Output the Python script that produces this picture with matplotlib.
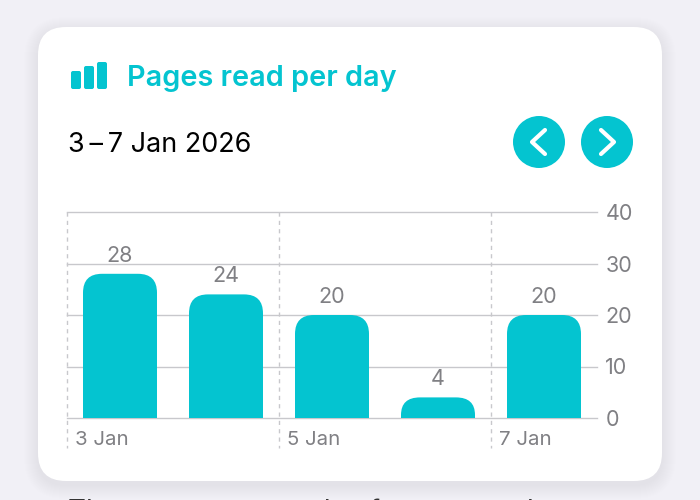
#!/bin/env python3
import matplotlib.pyplot as plt
import matplotlib as mpl
from matplotlib.patches import FancyBboxPatch, PathPatch, Circle
from matplotlib.path import Path

mpl.rcParams["font.family"] = ["Inter", "DejaVu Sans"]

days = [0, 1, 2, 3, 4]
pages = [28, 24, 20, 4, 20]
y_ticks = [0, 10, 20, 30, 40]
date_ticks = [0, 2, 4]
date_labels = ["3 Jan", "5 Jan", "7 Jan"]

teal = "#04c4d0"
grid = "#c8c8cc"
grey = "#808084"

fig = plt.figure(figsize=(7, 5), dpi=100, facecolor="#f1f0f6")

# background layer in pixels, y going down
bg = fig.add_axes([0, 0, 1, 1])
bg.set_xlim(0, 700)
bg.set_ylim(500, 0)
bg.axis("off")

# soft shadow, then the card
for i in range(14):
    pad = 14 - i
    bg.add_patch(FancyBboxPatch((38 - pad, 27 - pad + 4), 624 + 2 * pad, 454 + 2 * pad,
                                boxstyle="round,pad=0,rounding_size=%d" % (28 + pad),
                                fc="#000000", ec="none", alpha=0.0028))
bg.add_patch(FancyBboxPatch((38, 27), 624, 454, boxstyle="round,pad=0,rounding_size=28",
                            fc="white", ec="none"))

# small bars icon
for x0, top in [(71, 71), (84, 66), (97, 62)]:
    bg.add_patch(FancyBboxPatch((x0, top), 10, 89 - top, boxstyle="round,pad=0,rounding_size=2",
                                fc=teal, ec="none"))

bg.text(127, 78.5, "Pages read per day", color=teal, fontsize=20.8, fontweight="semibold",
        va="center", ha="left")
bg.text(68, 144.5, "3\u2009\u2013\u20097 Jan 2026", color="black", fontsize=19.4, va="center", ha="left")

# buttons
for cx, sign in [(539, -1), (607, 1)]:
    bg.add_patch(Circle((cx, 142), 26, fc=teal, ec="none"))
    bg.plot([cx - sign * 6, cx + sign * 7, cx - sign * 6], [130, 142, 154],
            color="white", lw=3, solid_capstyle="round", solid_joinstyle="round")

# cut off line of text below the card
bg.text(68, 512, "There are no records of a new read", color="#333333", fontsize=20,
        va="center", ha="left", clip_on=True)

# chart, x from 67 to 597 px, y from 418 to 212 px
ax = fig.add_axes([67 / 700, (500 - 418) / 500, 530 / 700, 206 / 500])
ax.patch.set_alpha(0)
ax.set_xlim(-0.5, 4.5)
ax.set_ylim(0, 40)
for s in ax.spines.values():
    s.set_visible(False)
ax.yaxis.tick_right()
ax.set_yticks(y_ticks)
ax.set_xticks([])
ax.tick_params(axis="y", length=0, pad=6, labelsize=15.5, labelcolor=grey)
for t in y_ticks:
    ax.axhline(t, color=grid, lw=1.0, zorder=1, clip_on=False)


def rounded_bar(x, h, w=74 / 106, r_px=19):
    rx = r_px / 106
    ry = min(r_px, h * 5.15 * 0.85) / 5.15
    x0, x1 = x - w / 2, x + w / 2
    verts = [(x0, 0), (x0, h - ry), (x0, h), (x0 + rx, h), (x1 - rx, h),
             (x1, h), (x1, h - ry), (x1, 0), (x0, 0)]
    codes = [Path.MOVETO, Path.LINETO, Path.CURVE3, Path.CURVE3, Path.LINETO,
             Path.CURVE3, Path.CURVE3, Path.LINETO, Path.CLOSEPOLY]
    ax.add_patch(PathPatch(Path(verts, codes), fc=teal, ec="none", zorder=3))


for d, p in zip(days, pages):
    rounded_bar(d, p)
    ax.annotate(str(p), (d, p), xytext=(0, 13), textcoords="offset points", ha="center",
                va="center", color=grey, fontsize=15.5, zorder=4)

# dashed day marks run below the axis
for d, lab in zip(date_ticks, date_labels):
    ax.plot([d - 0.5, d - 0.5], [40, -5.8], color=grid, lw=1, ls=(0, (3, 3)), clip_on=False, zorder=2)
    ax.annotate(lab, (d - 0.5, 0), xytext=(6, -15.5), textcoords="offset points", ha="left",
                va="center", color=grey, fontsize=14.7)

plt.savefig("out.png", dpi=100)
